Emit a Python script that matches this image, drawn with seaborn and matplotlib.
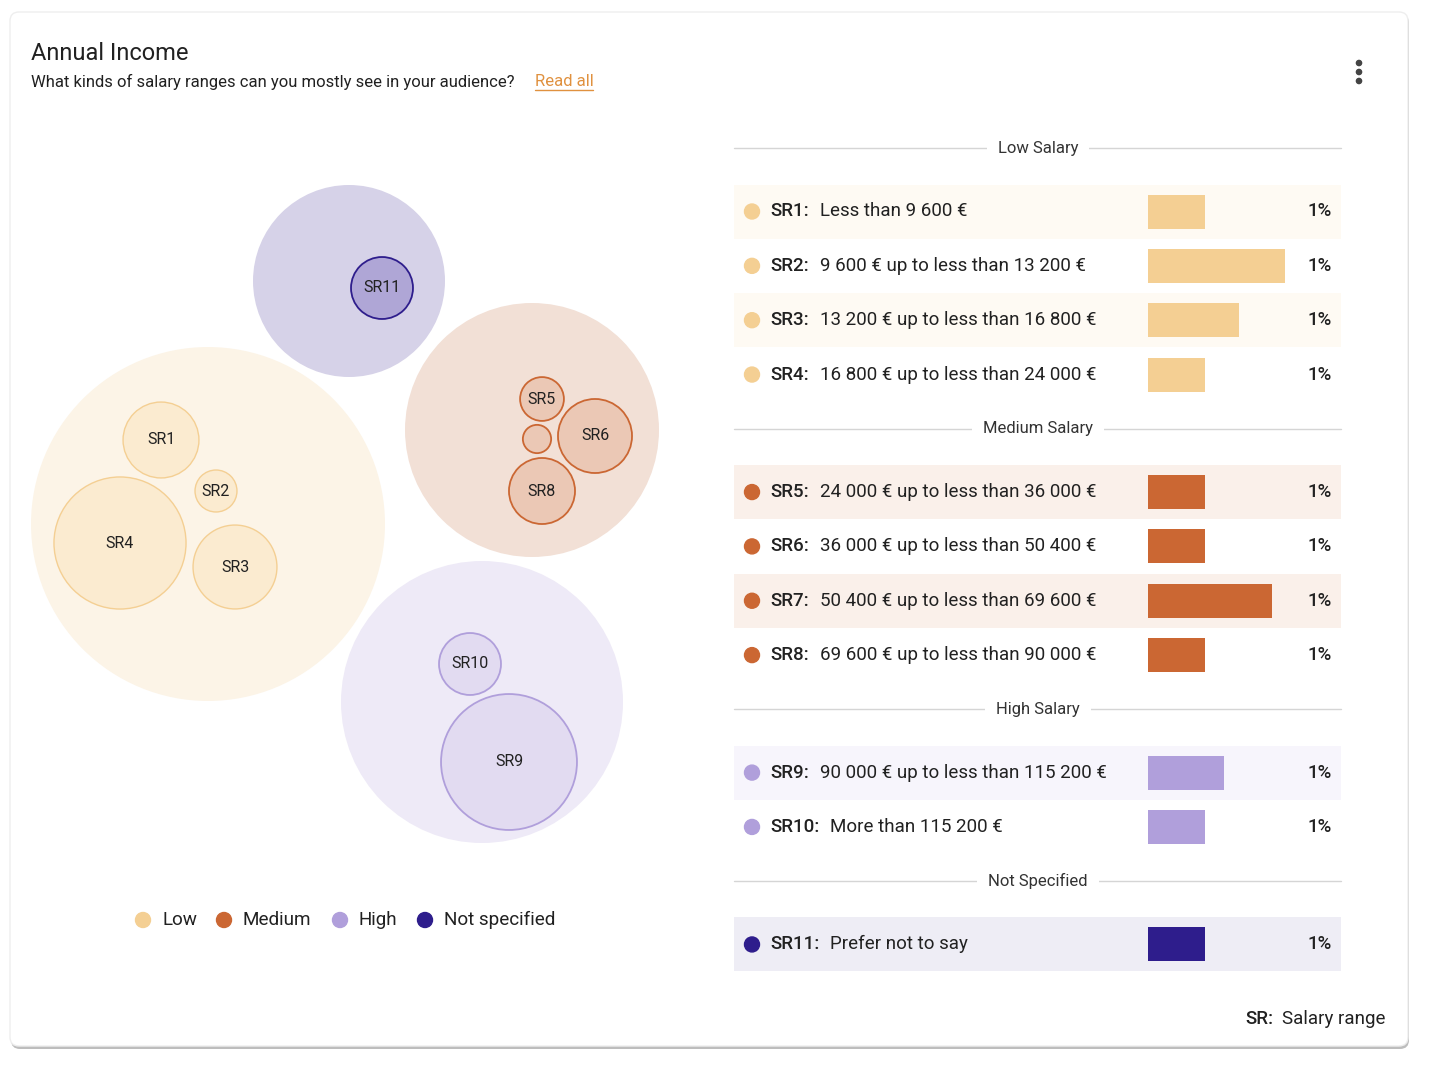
import matplotlib
matplotlib.use("Agg")
import matplotlib.pyplot as plt
from matplotlib.patches import Circle, FancyBboxPatch, Rectangle
import seaborn as sns
import pandas as pd

# ---------------- data ----------------
groups = ["Low", "Medium", "High", "Not specified"]
section_titles = ["Low Salary", "Medium Salary", "High Salary", "Not Specified"]
codes = ["SR1", "SR2", "SR3", "SR4", "SR5", "SR6", "SR7", "SR8", "SR9", "SR10", "SR11"]
code_group = ["Low", "Low", "Low", "Low", "Medium", "Medium", "Medium", "Medium",
              "High", "High", "Not specified"]
descriptions = ["Less than 9 600 €", "9 600 € up to less than 13 200 €",
                "13 200 € up to less than 16 800 €", "16 800 € up to less than 24 000 €",
                "24 000 € up to less than 36 000 €", "36 000 € up to less than 50 400 €",
                "50 400 € up to less than 69 600 €", "69 600 € up to less than 90 000 €",
                "90 000 € up to less than 115 200 €", "More than 115 200 €",
                "Prefer not to say"]
bar_pct = [0.6, 1.44, 0.96, 0.6, 0.6, 0.6, 1.3, 0.6, 0.8, 0.6, 0.6]
bubble_values = [14.4, 4.4, 17.6, 43.6, 4.8, 13.7, 2.0, 10.9, 46.2, 9.6, 9.6]
bubble_labels = ["SR1", "SR2", "SR3", "SR4", "SR5", "SR6", "", "SR8", "SR9", "SR10", "SR11"]

# ---------------- styles ----------------
main_col = {"Low": "#F4CF93", "Medium": "#CB6733", "High": "#B09FDB", "Not specified": "#2E1D8C"}
outer_fill = {"Low": "#FCF4E7", "Medium": "#F2E0D6", "High": "#EEEAF7", "Not specified": "#D6D2E8"}
inner_fill = {"Low": "#FBEBD0", "Medium": "#EBC8B5", "High": "#E2DBF1", "Not specified": "#AFA6D6"}
row_tint = {"Low": "#FEFAF3", "Medium": "#FAF0EA", "High": "#F7F5FC", "Not specified": "#EEEDF5"}

# circle-pack layout (pixel space)
group_layout = {"Low": (208, 524, 177), "Medium": (532, 430, 127),
                "High": (482, 702, 141), "Not specified": (349, 281, 96)}
child_layout = [(161, 440), (216, 491), (235, 567), (120, 543), (542, 399), (595, 436),
                (537, 439), (542, 491), (509, 762), (470, 664), (382, 288)]

sns.set_theme(style="white")
plt.rcParams["font.family"] = ["Roboto", "DejaVu Sans"]
TXT = "#212121"
BOLDW = "medium"

W, H = 1442, 1066
fig = plt.figure(figsize=(W / 100, H / 100), dpi=100)
fig.patch.set_facecolor("white")
ax = fig.add_axes([0, 0, 1, 1])
ax.set_xlim(0, W)
ax.set_ylim(H, 0)
ax.axis("off")

# card
ax.add_patch(FancyBboxPatch((11, 14), 1398, 1035, boxstyle="round,pad=0,rounding_size=9",
                            facecolor="#BDBDBD", edgecolor="none", zorder=0))
ax.add_patch(FancyBboxPatch((10, 12), 1398, 1034, boxstyle="round,pad=0,rounding_size=9",
                            facecolor="white", edgecolor="#EEEEEE", lw=1, zorder=0.5))

# header
ax.text(31, 53, "Annual Income", fontsize=17, color=TXT, va="center", ha="left")
ax.text(31, 82, "What kinds of salary ranges can you mostly see in your audience?",
        fontsize=12, color=TXT, va="center", ha="left")
ax.text(535, 82, "Read all", fontsize=12, color="#E0913F", va="center", ha="left")
ax.plot([535, 593], [90, 90], color="#E0913F", lw=1)
for yy in (63, 72, 81):
    ax.add_patch(Circle((1359, yy), 2.6, color="#444444"))

# bubbles
for g in groups:
    cx, cy, r = group_layout[g]
    ax.add_patch(Circle((cx, cy), r, facecolor=outer_fill[g], edgecolor="none", zorder=1))
for i, v in enumerate(bubble_values):
    g = code_group[i]
    cx, cy = child_layout[i]
    r = (v ** 0.5) * 10
    ax.add_patch(Circle((cx, cy), r, facecolor=inner_fill[g], edgecolor=main_col[g],
                        lw=1.3 if g != "Low" else 1.0, zorder=2))
    if bubble_labels[i]:
        ax.text(cx, cy, bubble_labels[i], fontsize=11.5, color=TXT, ha="center",
                va="center", zorder=3)

# bubble legend
leg_x = [143, 224, 340, 425]
for g, x in zip(groups, leg_x):
    ax.add_patch(Circle((x, 920), 7.5, color=main_col[g]))
    ax.text(x + 19, 920, g, fontsize=13.6, color=TXT, va="center", ha="left")

# list layout
row_y = []
header_y = []
y = 148
for g in groups:
    header_y.append(y)
    n = code_group.count(g)
    ys = [y + 63.5 + k * 54.35 for k in range(n)]
    row_y.extend(ys)
    y = ys[-1] + 54

L, R = 734, 1341
for t, hy in zip(section_titles, header_y):
    ax.plot([L, R], [hy, hy], color="#D5D5D5", lw=1, zorder=1)
    ax.text(1038, hy, t, fontsize=12, color="#333333", ha="center", va="center",
            zorder=2, bbox=dict(facecolor="white", edgecolor="none", pad=8))

renderer = fig.canvas.get_renderer()
prev_g = None
k = 0
for i, code in enumerate(codes):
    g = code_group[i]
    k = k + 1 if g == prev_g else 0
    prev_g = g
    yy = row_y[i]
    if k % 2 == 0:
        ax.add_patch(Rectangle((L, yy - 27), R - L, 54, facecolor=row_tint[g],
                               edgecolor="none", zorder=0.8))
    ax.add_patch(Circle((752, yy), 7.5, color=main_col[g], zorder=2))
    t1 = ax.text(770, yy, code + ":", fontsize=13.5, fontweight=BOLDW, color=TXT,
                 ha="left", va="center")
    bb = t1.get_window_extent(renderer)
    x_end = ax.transData.inverted().transform((bb.x1, bb.y0))[0]
    ax.text(x_end + 11, yy, descriptions[i], fontsize=13.5, color=TXT, ha="left", va="center")
    ax.text(1332, yy, f"{round(bar_pct[i])}%", fontsize=13.5, fontweight=BOLDW,
            color=TXT, ha="right", va="center")

# bars through seaborn
df = pd.DataFrame({"code": codes, "group": code_group, "pct": bar_pct, "ypos": row_y})
bx0, bx1 = 1148, 1338
ytop, ybot = 130, 990
axb = fig.add_axes([bx0 / W, (H - ybot) / H, (bx1 - bx0) / W, (ybot - ytop) / H])
axb.patch.set_alpha(0)
sns.barplot(data=df, x="pct", y="ypos", hue="group", palette=main_col, orient="y",
            native_scale=True, dodge=False, legend=False, width=34 / 54.35, ax=axb,
            saturation=1, edgecolor="none")
axb.set_xlim(0, (bx1 - bx0) / 95)
axb.set_ylim(ybot, ytop)
axb.axis("off")

# footnote
t2 = ax.text(1385, 1019, "Salary range", fontsize=13.5, color=TXT, ha="right", va="center")
bb2 = t2.get_window_extent(renderer)
x_start = ax.transData.inverted().transform((bb2.x0, bb2.y0))[0]
ax.text(x_start - 8, 1019, "SR:", fontsize=13.5, fontweight=BOLDW, color=TXT,
        ha="right", va="center")

fig.savefig("out.png", dpi=100, facecolor="white")
